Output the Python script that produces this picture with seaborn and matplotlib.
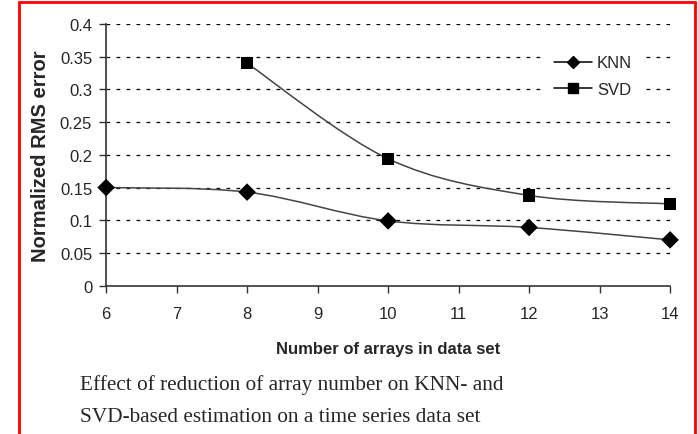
import numpy as np
import pandas as pd
import matplotlib
matplotlib.use("Agg")
import matplotlib.pyplot as plt
import seaborn as sns
from matplotlib.path import Path
from matplotlib.patches import PathPatch, Rectangle
from matplotlib.lines import Line2D

# ── data ──────────────────────────────────────────────────────────────────────
knn_arrays = [6, 8, 10, 12, 14]
knn_error = [0.150, 0.143, 0.099, 0.089, 0.070]
svd_arrays = [8, 10, 12, 14]
svd_error = [0.340, 0.194, 0.138, 0.125]
y_ticks = [0, 0.05, 0.1, 0.15, 0.2, 0.25, 0.3, 0.35, 0.4]
y_tick_labels = ["0", "0.05", "0.1", "0.15", "0.2", "0.25", "0.3", "0.35", "0.4"]
x_ticks = [6, 7, 8, 9, 10, 11, 12, 13, 14]

df = pd.concat([
    pd.DataFrame({"arrays": knn_arrays, "error": knn_error, "method": "KNN"}),
    pd.DataFrame({"arrays": svd_arrays, "error": svd_error, "method": "SVD"}),
])

sns.set_theme(style="white")
plt.rcParams["font.family"] = ["Liberation Sans", "DejaVu Sans"]


def smooth_path(xs, ys, tension=1 / 6):
    # Excel-like smoothed line: cubic bezier segments through the data points
    pts = np.column_stack([xs, ys]).astype(float)
    verts = [pts[0]]
    codes = [Path.MOVETO]
    n = len(pts)
    for i in range(n - 1):
        p0 = pts[max(i - 1, 0)]
        p1 = pts[i]
        p2 = pts[i + 1]
        p3 = pts[min(i + 2, n - 1)]
        c1 = p1 + (p2 - p0) * tension
        c2 = p2 - (p3 - p1) * tension
        verts += [c1, c2, p2]
        codes += [Path.CURVE4] * 3
    return Path(verts, codes)


fig = plt.figure(figsize=(6.98, 4.35), dpi=100)
fig.patch.set_facecolor("white")
ax = fig.add_axes([0.152, 0.341, 0.808, 0.6015])

# dotted grid
for y in y_ticks[1:]:
    ax.axhline(y, color="black", lw=0.9, ls=(0, (3, 5)), zorder=0)

line_color = "#444444"
for method, sub in df.groupby("method"):
    ax.add_patch(PathPatch(smooth_path(sub["arrays"], sub["error"]),
                           facecolor="none", edgecolor=line_color, lw=1.1, zorder=2))

sns.scatterplot(data=df, x="arrays", y="error", style="method",
                markers={"KNN": "D", "SVD": "s"}, color="black",
                s=80, edgecolor="black", linewidth=0, legend=False,
                ax=ax, zorder=3)
for coll in ax.collections:
    coll.set_clip_on(False)

ax.set_xlim(6, 14)
ax.set_ylim(0, 0.4)
ax.set_xticks(x_ticks)
ax.set_xticklabels([str(v) for v in x_ticks], fontsize=12)
ax.set_yticks(y_ticks)
ax.set_yticklabels(y_tick_labels, fontsize=12)
ax.tick_params(axis="both", direction="out", length=5, width=1, color="#333333",
               bottom=True, left=True)
ax.tick_params(axis="x", pad=10)
ax.tick_params(axis="y", pad=5)
for side in ["top", "right"]:
    ax.spines[side].set_visible(False)
for side in ["left", "bottom"]:
    ax.spines[side].set_color("#333333")
    ax.spines[side].set_linewidth(1.2)

ax.set_xlabel("Number of arrays in data set", fontsize=12, fontweight="bold", labelpad=14)
ax.set_ylabel("Normalized RMS error", fontsize=14.5, fontweight="bold", labelpad=7)

handles = [
    Line2D([], [], color="black", lw=1.1, marker="D", markersize=6, label="KNN"),
    Line2D([], [], color="black", lw=1.1, marker="s", markersize=7, label="SVD"),
]
leg = ax.legend(handles=handles, loc="upper right", bbox_to_anchor=(0.965, 0.95),
                frameon=True, fontsize=12, handlelength=2.3, handletextpad=0.3,
                labelspacing=0.7, borderpad=0.6)
leg.get_frame().set_edgecolor("white")
leg.get_frame().set_facecolor("white")
leg.get_frame().set_alpha(1)

fig.text(0.115, 0.115, "Effect of reduction of array number on KNN- and",
         fontsize=15.3, family=["Liberation Serif", "DejaVu Serif"], va="center")
fig.text(0.115, 0.04, "SVD-based estimation on a time series data set",
         fontsize=15.3, family=["Liberation Serif", "DejaVu Serif"], va="center")

# red frame around the figure
fig.patches.append(Rectangle((19 / 698, -0.05), (695 - 19) / 698, 1.05 - 3 / 435,
                             transform=fig.transFigure, fill=False,
                             edgecolor="red", lw=2, clip_on=False))

fig.savefig("out.png", dpi=100)
